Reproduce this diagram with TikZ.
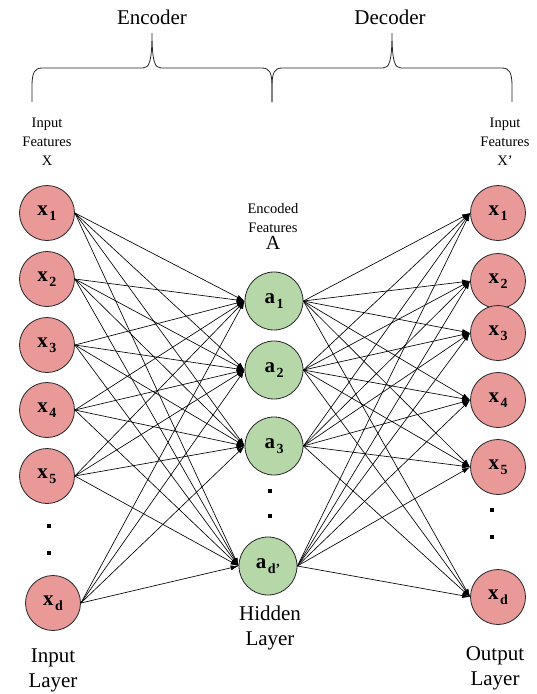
\documentclass[tikz,border=0pt]{standalone}
\usepackage{fontspec}
\setmainfont{Liberation Serif}
\usetikzlibrary{arrows.meta}
\definecolor{nodepink}{HTML}{EA9999}
\definecolor{nodegreen}{HTML}{B6D7A8}
% bold variable with a bold, lowered index
\newcommand\unitlabel[2]{\textbf{#1}\kern1.5pt\raisebox{-5pt}{\fontsize{14}{14}\selectfont\bfseries #2}}
% curly brace from (#1,102) to (#2,102) with its tip at the middle
\newcommand\topbrace[2]{%
  \pgfmathsetmacro\tipx{(#1+#2)/2}%
  \draw[bracepen] (#1,102) -- (#1,86)
    .. controls (#1,72) and (#1+3,68) .. (#1+10,68)
    -- (\tipx-9,68)
    .. controls (\tipx-3,68) and (\tipx,62) .. (\tipx,33)
    .. controls (\tipx,62) and (\tipx+3,68) .. (\tipx+9,68)
    -- (#2-10,68)
    .. controls (#2-3,68) and (#2,72) .. (#2,86) -- (#2,102);}
\begin{document}
\begin{tikzpicture}[x=1pt,y=-1pt,
  neuron/.style={circle, draw=black!85, line width=0.8pt, inner sep=0pt, font=\fontsize{21}{21}\selectfont},
  innode/.style={neuron, fill=nodepink, minimum size=55pt},
  hidnode/.style={neuron, fill=nodegreen, minimum size=58pt},
  link/.style={line width=0.65pt, -{Latex[length=8pt,width=5pt]}},
  bracepen/.style={line width=0.8pt, black!85},
  dotmark/.style={fill=black, inner sep=0pt, minimum size=4pt, rectangle},
  smalltext/.style={align=center, font=\fontsize{14.5}{19}\selectfont},
  bigtext/.style={align=center, font=\fontsize{21}{25}\selectfont}]
\useasboundingbox (0,0) rectangle (537,694);

% braces and their titles
\topbrace{32}{272}
\topbrace{272}{512}
\node[bigtext] (enc) at (152,17) {Encoder};
\node[bigtext] (dec) at (390,17) {Decoder};

% input layer
\node[innode] (i1) at (47,213) {\unitlabel{x}{1}};
\node[innode] (i2) at (47,279) {\unitlabel{x}{2}};
\node[innode] (i3) at (47,345) {\unitlabel{x}{3}};
\node[innode] (i4) at (47,410) {\unitlabel{x}{4}};
\node[innode] (i5) at (47,476) {\unitlabel{x}{5}};
\node[innode] (id) at (53,603) {\unitlabel{x}{d}};
\node[dotmark] (idot1) at (49,526) {};
\node[dotmark] (idot2) at (49,553) {};

% hidden layer
\node[hidnode] (h1) at (274,301) {\unitlabel{a}{1}};
\node[hidnode] (h2) at (274,370) {\unitlabel{a}{2}};
\node[hidnode] (h3) at (274,446) {\unitlabel{a}{3}};
\node[hidnode] (hd) at (268,566) {\unitlabel{a}{d’}};
\node[dotmark] (hdot1) at (270,491) {};
\node[dotmark] (hdot2) at (270,516) {};

% output layer
\node[innode] (o1) at (498,213) {\unitlabel{x}{1}};
\node[innode] (o2) at (498,281) {\unitlabel{x}{2}};
\node[innode] (o3) at (498,333) {\unitlabel{x}{3}};
\node[innode] (o4) at (498,400) {\unitlabel{x}{4}};
\node[innode] (o5) at (498,467) {\unitlabel{x}{5}};
\node[innode] (od) at (498,597) {\unitlabel{x}{d}};
\node[dotmark] (odot1) at (492,510) {};
\node[dotmark] (odot2) at (492,537) {};

% fully connected weights
\foreach \s in {i1,i2,i3,i4,i5,id}
  \foreach \t in {h1,h2,h3,hd}
    \draw[link] (\s.east) -- (\t.west);
\foreach \s in {h1,h2,h3,hd}
  \foreach \t in {o1,o2,o3,o4,o5,od}
    \draw[link] (\s.east) -- (\t.west);

% captions
\node[smalltext] (inlbl) at (47,142) {Input\\Features\\X};
\node[smalltext] (outlbl) at (505,142) {Input\\Features\\X’};
\node[smalltext] (hidlbl) at (273,226) {Encoded\\Features\\[-2pt]{\fontsize{20}{20}\selectfont A}};
\node[bigtext] (inlayer) at (53,670) {Input\\Layer};
\node[bigtext] (hidlayer) at (270,628) {Hidden\\Layer};
\node[bigtext] (outlayer) at (495,668) {Output\\Layer};
\end{tikzpicture}
\end{document}
